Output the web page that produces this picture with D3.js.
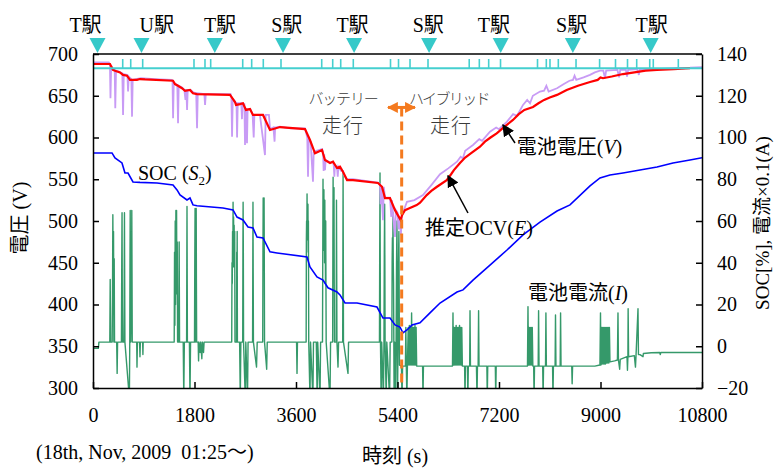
<!DOCTYPE html>
<html>
<head>
<meta charset="utf-8">
<script src="https://cdn.jsdelivr.net/npm/d3@7"></script>
<style>
  body { margin: 0; background: #fff; }
  svg { display: block; }
  text { font-family: "Liberation Serif", "Noto Sans CJK JP", serif; }
</style>
</head>
<body>
<svg id="chart" width="776" height="468"></svg>
<script>
// time axis [s], left axis voltage [V], right axis SOC[%] / current x0.1 [A]
const timeTicks = [0, 1800, 3600, 5400, 7200, 9000, 10800];
const voltTicks = [300, 350, 400, 450, 500, 550, 600, 650, 700];
const rightTicks = [-20, 0, 20, 40, 60, 80, 100, 120, 140];

const stationNames = ["T駅", "U駅", "T駅", "S駅", "T駅", "S駅", "T駅", "S駅", "T駅"];
const stationTimes = [80, 860, 2160, 3370, 4630, 5960, 7230, 8510, 9890];
const stationLabelTimes = [-133, 1130, 2252, 3435, 4602, 5946, 7111, 8489, 9908];
// short stop marks on the cyan line
const stopTimes = [527, 669, 881, 1791, 1986, 2087, 2655, 2814, 3020, 3334, 4056, 4251, 4393, 4616,
  5276, 5418, 5622, 5941, 6672, 6851, 7017, 7227, 7883, 8039, 8104, 8252, 8566, 8984, 9266,
  9479, 9642, 9873, 9936, 10380];
const stopLineV = 683;
const stopMarkV = 694;

// battery voltage V (purple)
const batteryV = [
  [0,690],[280,690],[300,688],[310,647],[322,686],[345,682],[360,681],
  [385,681],[395,635],[408,680],[460,679],
  [520,677],[533,627],[546,676],[610,675],[622,655],[634,673],
  [680,670],[692,625],[704,669],[760,670],[850,671],[1100,670],[1400,669],
  [1410,668],[1420,623],[1432,666],[1460,664],[1495,663],[1508,617],[1520,662],[1580,660],
  [1620,657],[1640,645],[1650,657],[1655,657],[1668,633],[1680,657],[1730,657],[1780,654],
  [1830,653],[1845,611],[1858,653],[1975,652],[1987,639],[2000,652],[2300,652],[2440,652],
  [2455,648],[2466,601],[2478,646],[2520,643],[2545,641],[2555,600],[2567,641],[2630,641],
  [2642,622],[2652,641],[2685,640],[2696,591],[2708,634],[2720,634],[2731,593],[2742,634],[2790,634],
  [2830,628],[2850,600],[2862,627],[2960,627],[3050,579],[3062,627],[3120,627],
  [3140,610],[3200,612],[3220,595],[3230,612],[3316,613],[3500,611],[3760,611],
  [3800,600],[3813,553],[3826,597],[3860,595],[3901,547],[3914,582],[3960,584],[4061,586],
  [4080,583],[4090,560],[4100,580],[4114,561],[4126,573],[4200,570],[4256,571],
  [4270,566],[4280,553],[4290,566],[4327,565],[4340,553],[4352,565],[4400,560],[4433,560],
  [4450,555],[4505,550],[4611,550],[5054,546],
  [5090,544],[5100,520],[5110,543],[5143,501],[5156,541],[5180,528],[5267,528],[5290,505],
  [5300,525],[5356,481],[5370,513],[5400,510],[5420,490],[5440,505],[5460,483],[5475,505],
  [5497,510],[5568,523],[5700,525],[5852,531],[6000,543],[6154,556],[6300,563],[6455,571],
  [6520,577],[6560,575],[6600,584],[6739,591],[6850,598],[6900,596],[7040,607],
  [7150,612],[7200,610],[7342,619],[7450,628],[7520,626],[7626,639],[7700,645],[7750,641],
  [7800,650],[7927,655],[8000,656],[8040,662],[8080,655],[8229,659],[8350,664],[8450,668],
  [8512,669],[8540,674],[8570,669],[8700,672],[8814,675],[8900,678],[8991,680],[9050,680],
  [9080,671],[9100,680],[9300,681],[9330,672],[9350,681],[9450,681],[9470,673],[9490,681],
  [9650,682],[9680,675],[9700,682],[10002,682],[10300,683],[10587,683.6],[10800,684.4]
];

// estimated OCV E (red)
const ocvE = [
  [0,688],[301,688],[355,681],[390,680],[479,678],[532,675],[603,674],[656,669],[780,669],
  [833,670],[922,669.5],[1419,668],[1454,664],[1507,662],[1578,659],[1632,656],[1720,657],
  [1773,653],[1844,652],[2430,651],[2483,646],[2518,642.5],[2536,639],[2607,640],[2660,641],
  [2713,633],[2784,634],[2837,627],[3015,627],[3139,609],[3316,612.5],[3760,610],[3848,597],
  [3937,581],[4061,585],[4114,573],[4203,569.5],[4256,571],[4327,563.5],[4380,565],[4433,559],
  [4505,549],[4611,549],[5054,545.5],[5125,541],[5178,527.5],[5267,527.5],[5356,513],
  [5457,501],[5480,507],[5533,513],[5600,515],[5740,519],[5800,522],[5918,531],[6000,536],
  [6100,541],[6273,549],[6350,556],[6400,561],[6508,569.5],[6600,576],[6700,581],[6863,589],
  [6950,595],[7050,600],[7159,605],[7300,613],[7448,621],[7550,628],[7650,633],[7803,636.5],
  [7900,641],[8000,645],[8100,648],[8229,651],[8400,657],[8600,662],[8814,666.5],[8950,669],
  [9000,672],[9044,671],[9200,673],[9399,676],[9600,678],[9800,680],[10002,681],[10300,682],
  [10587,683]
];

// SOC S2 (blue, right axis)
const socS2 = [
  [0,92.6],[337,92.6],[390,90.2],[514,87.8],[567,83],[621,83],[709,78.7],[833,78.5],[1135,78.2],
  [1419,77.3],[1490,74.9],[1543,72.5],[1667,70.1],[1720,71],[1773,67.7],[1844,67.3],[2305,66.2],
  [2483,65.3],[2554,61.9],[2660,60.5],[2749,57.1],[2837,56.7],[2908,52.3],[3015,51.9],
  [3139,45.2],[3263,44.7],[3795,42.8],[3848,38],[3972,33.2],[4079,31.7],[4167,28],[4327,26],
  [4380,24.6],[4469,20.7],[4682,20.7],[5036,18.8],[5143,13.5],[5267,13.5],[5356,10.2],
  [5444,9.2],[5497,6.4],[5568,7.8],[5657,10.2],[5799,11.2],[5976,16],[6154,20.7],[6455,26],
  [6562,27],[6739,31.7],[7040,38.9],[7342,46.1],[7626,53.3],[7927,59.5],[8229,64.8],
  [8459,67.7],[8814,76.8],[8991,80.6],[9168,82],[9399,83],[9700,84.4],[10002,85.9],
  [10286,87.8],[10587,89.2],[10800,90.3]
];

// battery current I x0.1 (green, right axis)
const currentI = [
  [0,-1],[95,-1],[105,2],[290,2],
  [298,2],[305,32],[312,2],[340,2],[346,25],[352,63],[358,30],[364,55],[370,2],[376,42],[382,2],
  [420,2],[428,-13],[436,2],
  [504,2],[510,40],[515,64],[520,20],[525,2],[550,2],[554,35],[558,64],[562,30],[566,2],
  [645,-25],[652,2],[656,40],[660,65],[664,25],[668,2],[684,30],[688,65],[692,35],[696,2],
  [775,2],[780,-10],[788,2],[826,2],[833,-5],[840,2],[880,2],[885,-4],[890,2],
  [1440,2],[1446,45],[1452,10],[1458,60],[1464,20],[1470,65],[1476,30],[1482,65],[1488,25],
  [1494,50],[1500,2],[1520,2],[1528,50],[1535,2],
  [1600,2],[1610,-25],[1620,2],[1660,2],[1664,40],[1667,67],[1671,30],[1674,2],[1710,2],[1720,-25],[1730,2],
  [1800,2],[1805,40],[1810,66],[1814,30],[1817,2],[1826,40],[1830,66],[1834,30],[1838,2],
  [1865,2],[1872,-7],[1880,2],[1900,-3],[1910,2],[1930,-6],[1940,2],[1960,-3],[1970,2],
  [2460,2],[2465,40],[2470,30],[2475,55],[2480,38],[2484,69],[2488,40],[2493,62],[2498,38],
  [2503,58],[2508,40],[2513,55],[2518,2],
  [2545,2],[2549,45],[2553,30],[2557,55],[2561,2],[2600,2],[2612,-25],[2622,2],
  [2655,2],[2659,50],[2662,69],[2666,45],[2670,2],[2700,-25],[2710,2],[2740,-25],[2750,2],
  [2830,2],[2834,40],[2837,69],[2841,35],[2845,2],[2900,-10],[2912,2],
  [3010,2],[3014,45],[3018,71],[3022,45],[3026,60],[3030,45],[3034,71],[3038,40],[3042,2],
  [3080,-11],[3090,2],
  [3610,2],[3618,-13],[3626,2],[3780,2],[3784,51],[3788,60],[3792,51],[3796,73],[3800,51],
  [3804,65],[3808,51],[3812,68],[3816,45],[3820,60],[3826,2],
  [3848,-25],[3858,2],[3900,-25],[3910,2],[3960,2],[3975,-25],[3985,2],[4026,-25],[4036,2],
  [4070,2],[4075,46],[4079,80],[4083,46],[4087,70],[4091,46],[4095,75],[4099,46],[4103,65],
  [4107,40],[4111,70],[4115,40],[4119,55],[4123,30],[4127,60],[4135,2],
  [4203,-25],[4213,2],[4250,2],[4254,50],[4258,81],[4262,45],[4266,70],[4270,40],[4274,76],
  [4278,30],[4282,2],[4312,2],[4318,70],[4322,35],[4326,2],
  [4345,-10],[4355,2],[4428,2],[4432,50],[4435,83],[4439,40],[4442,2],[4522,-13],[4532,2],
  [5080,2],[5085,50],[5090,83],[5094,40],[5098,2],[5110,-25],[5120,2],[5150,-25],[5160,2],
  [5166,45],[5172,68],[5176,40],[5180,2],
  [5200,-25],[5210,2],[5260,-25],[5270,2],[5300,2],[5305,40],[5310,52],[5315,35],[5320,64],
  [5325,40],[5330,30],[5340,-25],[5350,2],[5365,-25],[5375,2],[5383,40],[5391,60],[5400,-25],
  [5410,2],[5418,40],[5425,55],[5435,-9],
  [5470,-9.5],[5480,-25],[5490,-9.5],
  [5540,-9.5],[5548,9],[5556,-9],[5566,-25],[5576,-9],[5590,9],[5600,-9],[5610,10],[5620,-9],
  [5630,9],[5640,-9],[5650,16],[5660,-9],[5670,9],[5680,-9],[5690,9],[5700,-9],[5710,10],
  [5720,-9],[5730,9],[5740,-9.5],
  [5845,-9.5],[5852,-25],[5860,-9.5],
  [6375,-9.5],[6384,16],[6392,-9],[6400,9],[6410,-9],[6420,9],[6430,-9],[6440,10],[6450,-9],
  [6460,9],[6470,-9],[6480,9],[6490,-9],[6500,10],[6510,-9],[6520,9],[6530,-9],[6540,9],[6550,-9.5],
  [6590,-9.5],[6597,-25],[6605,-9.5],[6640,-9.5],[6648,-25],[6656,-9.5],[6680,-9.5],[6686,17],
  [6694,-9.5],[6800,-9.5],[6810,-25],[6818,-9.5],[6830,-9.5],[6838,17],[6846,-9.5],[6985,-9.5],
  [6992,-25],[7000,-9.5],[7135,-9.5],[7142,-25],[7150,-9.5],
  [7705,-9.5],[7714,19],[7722,-9],[7730,9],[7740,-9],[7750,9],[7760,-9],[7770,9],[7780,-9],
  [7790,9],[7800,-9.5],[7815,-9.5],[7822,-25],[7830,-9.5],[7895,-9.5],[7902,17],[7910,-9.5],
  [7975,-9.5],[7982,-25],[7990,-9.5],[8025,-9.5],[8032,16],[8040,-9.5],[8150,-9.5],[8157,-25],
  [8165,-9.5],[8195,-9.5],[8202,15],[8210,-9.5],[8285,-9.5],[8292,16],[8300,-9.5],[8490,-9.5],
  [8497,-18],[8505,-9.5],
  [8900,-9.5],[8990,-9],[9000,16],[9008,-9],[9018,9],[9028,-8.5],[9038,9],[9048,-8.5],[9058,9],
  [9068,-8.5],[9078,9],[9088,-8.5],[9098,9],[9108,-8],[9118,9],[9128,-8],[9138,9],[9148,-8],
  [9158,9],[9168,-7.5],
  [9250,-7],[9300,-6.6],[9310,16],[9318,-6.5],[9340,-11],[9350,-6.3],[9470,-5],[9478,-11.5],
  [9486,-5],[9490,18],[9498,-5],[9600,-4.5],[9620,-10],[9630,-4.5],[9665,18],[9673,-4],
  [9700,-4],[9754,-5],[9760,-3.5],[9900,-3.1],[10050,-3],[10060,-4],[10070,-3],[10400,-3],[10800,-3]
];

// switch from battery running to hybrid running
const switchTime = 5474;
const switchArrow = [5231, 5710];
const switchTopV = 636;
const switchBottomV = 306;

const width = 776, height = 468;
const margin = { top: 54, right: 74, bottom: 80, left: 93 };
const plotW = width - margin.left - margin.right;
const plotH = height - margin.top - margin.bottom;
const serif = '"Liberation Serif", "Noto Sans CJK JP", serif';

const svg = d3.select("#chart");

const x = d3.scaleLinear().domain([0, 10800]).range([margin.left, margin.left + plotW]);
const yL = d3.scaleLinear().domain([300, 700]).range([margin.top + plotH, margin.top]);
const yR = d3.scaleLinear().domain([-20, 140]).range([margin.top + plotH, margin.top]);

const defs = svg.append("defs");
defs.append("clipPath").attr("id", "plot-clip")
  .append("rect")
  .attr("x", margin.left).attr("y", margin.top)
  .attr("width", plotW).attr("height", plotH);

defs.append("marker")
  .attr("id", "arrow-black")
  .attr("viewBox", "0 0 10 10")
  .attr("refX", 9).attr("refY", 5)
  .attr("markerWidth", 12).attr("markerHeight", 12)
  .attr("markerUnits", "userSpaceOnUse")
  .attr("orient", "auto")
  .append("path").attr("d", "M0,0L10,5L0,10z").attr("fill", "#000");

defs.append("marker")
  .attr("id", "arrow-orange")
  .attr("viewBox", "0 0 10 10")
  .attr("refX", 9).attr("refY", 5)
  .attr("markerWidth", 11).attr("markerHeight", 11)
  .attr("markerUnits", "userSpaceOnUse")
  .attr("orient", "auto-start-reverse")
  .append("path").attr("d", "M0,0L10,5L0,10z").attr("fill", "#f47a1f");

const plot = svg.append("g").attr("clip-path", "url(#plot-clip)");

const lineL = d3.line().x(d => x(d[0])).y(d => yL(d[1]));
const lineR = d3.line().x(d => x(d[0])).y(d => yR(d[1]));

// current (drawn first, bottom layer)
plot.append("path")
  .datum(currentI)
  .attr("d", lineR)
  .attr("fill", "none")
  .attr("stroke", "#35996a")
  .attr("stroke-width", 1.4)
  .attr("stroke-linejoin", "round");

plot.append("path")
  .datum(socS2)
  .attr("d", lineR)
  .attr("fill", "none")
  .attr("stroke", "#0000ff")
  .attr("stroke-width", 1.6);

plot.append("path")
  .datum(batteryV)
  .attr("d", lineL)
  .attr("fill", "none")
  .attr("stroke", "#c89bf5")
  .attr("stroke-width", 1.8);

plot.append("path")
  .datum(ocvE)
  .attr("d", lineL)
  .attr("fill", "none")
  .attr("stroke", "#ff0000")
  .attr("stroke-width", 2.2);

// stop indicator line
plot.append("line")
  .attr("x1", x(0)).attr("x2", x(10800))
  .attr("y1", yL(stopLineV)).attr("y2", yL(stopLineV))
  .attr("stroke", "#45cfcf")
  .attr("stroke-width", 2);

plot.selectAll(".stop")
  .data(stopTimes)
  .join("line")
  .attr("class", "stop")
  .attr("x1", d => x(d)).attr("x2", d => x(d))
  .attr("y1", yL(stopLineV)).attr("y2", yL(stopMarkV))
  .attr("stroke", "#45cfcf")
  .attr("stroke-width", 1.6);

// switch marker
svg.append("line")
  .attr("x1", x(switchTime)).attr("x2", x(switchTime))
  .attr("y1", yL(switchTopV)).attr("y2", yL(switchBottomV))
  .attr("stroke", "#f47a1f")
  .attr("stroke-width", 3)
  .attr("stroke-dasharray", "9,5");

svg.append("line")
  .attr("x1", x(switchArrow[0])).attr("x2", x(switchArrow[1]))
  .attr("y1", yL(switchTopV)).attr("y2", yL(switchTopV))
  .attr("stroke", "#f47a1f")
  .attr("stroke-width", 3)
  .attr("marker-start", "url(#arrow-orange)")
  .attr("marker-end", "url(#arrow-orange)");

// axes
const axisFont = g => g
  .call(g => g.selectAll("text")
    .attr("fill", "#000")
    .style("font-family", serif)
    .style("font-size", "20px"))
  .call(g => g.selectAll("line, path").attr("stroke", "#000").attr("stroke-width", 1.5));

svg.append("g")
  .attr("transform", `translate(0,${margin.top + plotH})`)
  .call(d3.axisBottom(x).tickValues(timeTicks).tickFormat(d3.format("d"))
    .tickSize(-6).tickSizeOuter(0).tickPadding(20))
  .call(axisFont);

svg.append("g")
  .attr("transform", `translate(${margin.left},0)`)
  .call(d3.axisLeft(yL).tickValues(voltTicks).tickFormat(d3.format("d"))
    .tickSize(-6).tickSizeOuter(0).tickPadding(15))
  .call(axisFont);

svg.append("g")
  .attr("transform", `translate(${margin.left + plotW},0)`)
  .call(d3.axisRight(yR).tickValues(rightTicks).tickFormat(d3.format("d"))
    .tickSize(-6).tickSizeOuter(0).tickPadding(15))
  .call(axisFont);

svg.append("line")
  .attr("x1", margin.left).attr("x2", margin.left + plotW)
  .attr("y1", margin.top).attr("y2", margin.top)
  .attr("stroke", "#000").attr("stroke-width", 1.5);

// stations above the plot
svg.append("g").selectAll("path")
  .data(stationTimes)
  .join("path")
  .attr("transform", d => `translate(${x(d)},0)`)
  .attr("d", "M-8,38L8,38L0,53z")
  .attr("fill", "#36c9c9");

svg.append("g").selectAll("text")
  .data(stationLabelTimes)
  .join("text")
  .attr("x", d => x(d))
  .attr("y", 32)
  .attr("text-anchor", "middle")
  .style("font-family", serif)
  .style("font-size", "20px")
  .text((d, i) => stationNames[i]);

// axis titles
svg.append("text")
  .attr("transform", `translate(27,${margin.top + plotH / 2 - 3}) rotate(-90)`)
  .attr("text-anchor", "middle")
  .style("font-family", serif)
  .style("font-size", "20px")
  .text("電圧 (V)");

svg.append("text")
  .attr("transform", `translate(769,${margin.top + plotH / 2 + 2}) rotate(-90)`)
  .attr("text-anchor", "middle")
  .style("font-family", serif)
  .style("font-size", "19px")
  .text("SOC[%], 電流×0.1(A)");

svg.append("text")
  .attr("x", 395).attr("y", 463)
  .attr("text-anchor", "middle")
  .style("font-family", serif)
  .style("font-size", "20px")
  .text("時刻 (s)");

svg.append("text")
  .attr("x", 36).attr("y", 459)
  .style("font-family", serif)
  .style("font-size", "20px")
  .style("white-space", "pre")
  .text("(18th, Nov, 2009  01:25〜)");

// mode labels
const modeLabel = (t, v, txt, size, spacing) => svg.append("text")
  .attr("x", x(t)).attr("y", yL(v))
  .attr("text-anchor", "middle")
  .attr("dominant-baseline", "central")
  .attr("fill", "#3a3a3a")
  .style("font-family", '"Noto Sans CJK JP", sans-serif')
  .style("font-weight", 300)
  .style("font-size", size)
  .style("letter-spacing", spacing)
  .text(txt);

modeLabel(4434, 648.5, "バッテリー", "15px", "-1.2px");
modeLabel(4434, 615, "走行", "20px", "1px");
modeLabel(6313, 648.5, "ハイブリッド", "15px", "-1.6px");
modeLabel(6349, 615, "走行", "20px", "1px");

// series labels
const seriesLabel = (t, v, parts) => {
  const txt = svg.append("text")
    .attr("x", x(t)).attr("y", yL(v) + 7)
    .style("font-family", serif)
    .style("font-size", "20px");
  parts.forEach(p => {
    const span = txt.append("tspan").text(p.s);
    if (p.i) span.style("font-style", "italic");
    if (p.sub) span.attr("dy", 5).style("font-size", "13px");
    if (p.up) span.attr("dy", -5);
  });
  return txt;
};

seriesLabel(798, 558, [{ s: "SOC (" }, { s: "S", i: true }, { s: "2", sub: true }, { s: ")", up: true }]);
seriesLabel(7514, 589, [{ s: "電池電圧(" }, { s: "V", i: true }, { s: ")" }]);
seriesLabel(5888, 491.6, [{ s: "推定OCV(" }, { s: "E", i: true }, { s: ")" }]);
seriesLabel(7714, 413.8, [{ s: "電池電流(" }, { s: "I", i: true }, { s: ")" }]);

// pointer arrows
const pointer = (from, to) => svg.append("line")
  .attr("x1", x(from[0])).attr("y1", yL(from[1]))
  .attr("x2", x(to[0])).attr("y2", yL(to[1]))
  .attr("stroke", "#000")
  .attr("stroke-width", 1.5)
  .attr("marker-end", "url(#arrow-black)");

pointer([7484, 593.4], [7271, 615]);
pointer([6650, 509.6], [6296, 554]);
</script>
</body>
</html>
